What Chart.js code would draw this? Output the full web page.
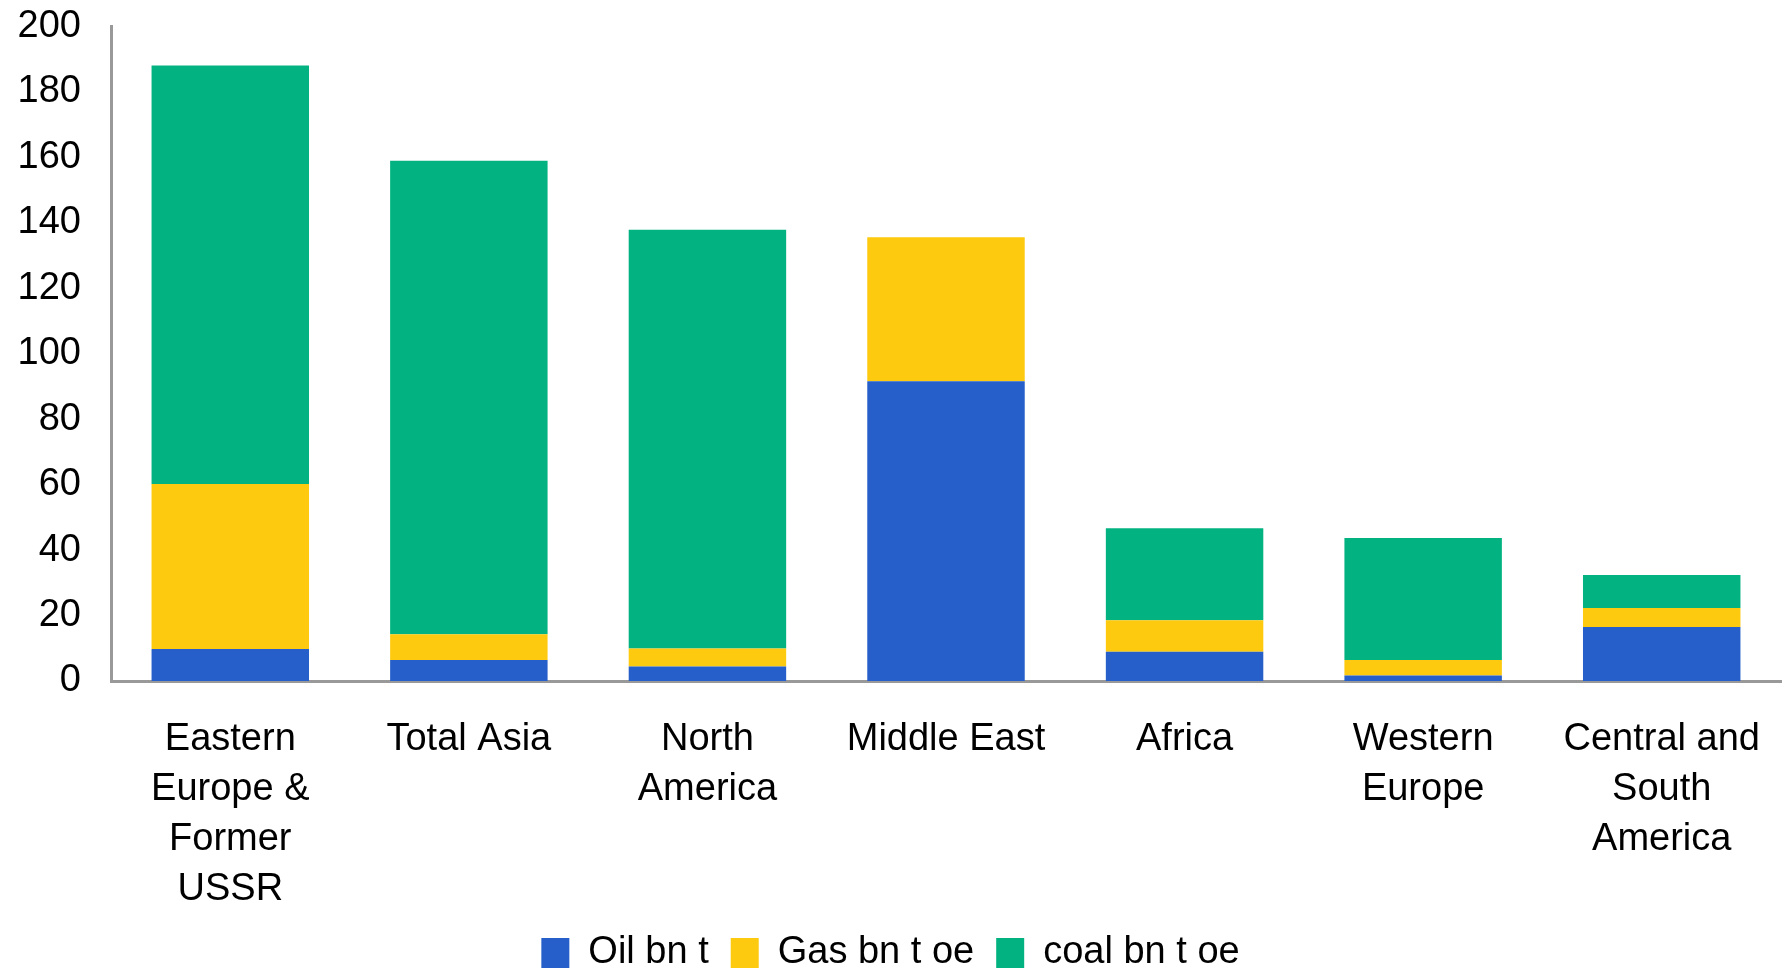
<!DOCTYPE html>
<html>
<head>
<meta charset="utf-8">
<script src="https://cdn.jsdelivr.net/npm/chart.js@4/dist/chart.umd.min.js"></script>
<style>
  html, body { margin: 0; padding: 0; background: #fff; }
  #wrap { width: 1790px; height: 974px; }
</style>
</head>
<body>
<div id="wrap"><canvas id="c" width="1790" height="974"></canvas></div>
<script>
const categories = [
  ["Eastern", "Europe &", "Former", "USSR"],
  ["Total Asia"],
  ["North", "America"],
  ["Middle East"],
  ["Africa"],
  ["Western", "Europe"],
  ["Central and", "South", "America"]
];
const seriesNames = ["Oil bn t", "Gas bn t oe", "coal bn t oe"];
const oil  = [9.8, 6.4, 4.4, 91.6, 8.9, 1.7, 16.5];
const gas  = [50.4, 7.9, 5.5, 44.0, 9.7, 4.7, 5.8];
const coal = [127.9, 144.7, 128.0, 0, 28.1, 37.3, 10.1];
const yTicks = [0, 20, 40, 60, 80, 100, 120, 140, 160, 180, 200];

const colors = ["#265FC9", "#FDCA0F", "#02B381"];
const FONT = "'Liberation Sans', Arial, sans-serif";

const legendFix = {
  id: 'legendFix',
  beforeLayout(chart) {
    const lg = chart.legend;
    if (lg && !lg._patched) {
      const f = lg.fit;
      lg.fit = function () { f.call(this); this.height = 62; };
      lg._patched = true;
    }
  }
};

new Chart(document.getElementById('c'), {
  type: 'bar',
  data: {
    labels: categories,
    datasets: [
      { label: seriesNames[0], data: oil,  backgroundColor: colors[0] },
      { label: seriesNames[1], data: gas,  backgroundColor: colors[1] },
      { label: seriesNames[2], data: coal, backgroundColor: colors[2] }
    ]
  },
  plugins: [legendFix],
  options: {
    responsive: false,
    animation: false,
    layout: { padding: { top: 0, right: 9, left: 0, bottom: 0 } },
    datasets: { bar: { categoryPercentage: 1.0, barPercentage: 0.66, borderWidth: 0 } },
    plugins: {
      tooltip: { enabled: false },
      legend: {
        position: 'bottom',
        labels: {
          boxWidth: 28,
          boxHeight: 30,
          padding: 22,
          color: '#000',
          font: { family: FONT, size: 38, lineHeight: 1 }
        }
      }
    },
    scales: {
      x: {
        stacked: true,
        grid: { display: false, drawTicks: false },
        border: { display: true, color: '#999999', width: 3 },
        ticks: {
          color: '#000',
          font: { family: FONT, size: 38, lineHeight: 1.31 },
          padding: 34,
          maxRotation: 0,
          minRotation: 0,
          autoSkip: false
        },
        afterFit(scale) {
          scale.height = 974 - 62 - 681;
          scale.paddingLeft = 0;
          scale.paddingRight = 0;
        }
      },
      y: {
        stacked: true,
        min: 0,
        max: 200,
        afterBuildTicks(scale) { scale.ticks = yTicks.map(v => ({ value: v })); },
        grid: { display: false, drawTicks: false },
        border: { display: true, color: '#999999', width: 3 },
        ticks: {
          color: '#000',
          font: { family: FONT, size: 38 },
          padding: 30
        },
        afterFit(scale) {
          scale.width = 111;
          scale.paddingTop = 26.5;
          scale.paddingBottom = 0;
        }
      }
    }
  }
});
</script>
</body>
</html>
